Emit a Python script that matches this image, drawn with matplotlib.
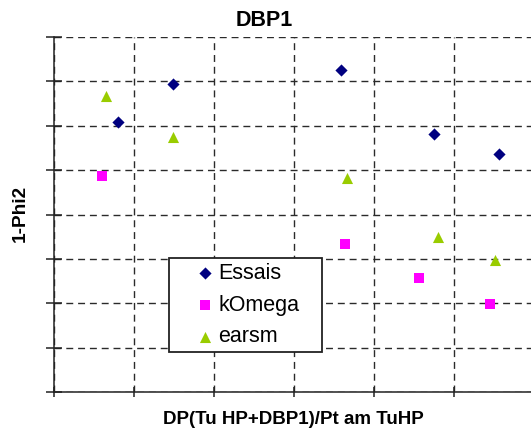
import matplotlib
matplotlib.use("Agg")
import matplotlib.pyplot as plt
from matplotlib.patches import Rectangle

plt.rcParams['font.family'] = ['Liberation Sans', 'DejaVu Sans']

# grid units on both axes (no tick labels on this chart)
essais_x = [0.79, 1.48, 3.58, 4.75, 5.56]
essais_y = [6.09, 6.93, 7.25, 5.81, 5.37]
komega_x = [0.59, 3.63, 4.56, 5.45]
komega_y = [4.87, 3.33, 2.56, 1.98]
earsm_x = [0.64, 1.48, 3.66, 4.80, 5.51]
earsm_y = [6.68, 5.74, 4.83, 3.49, 2.97]

x_ticks = [0, 1, 2, 3, 4, 5, 6]
y_ticks = [0, 1, 2, 3, 4, 5, 6, 7, 8]

fig = plt.figure(figsize=(5.31, 4.30), dpi=100)
W, H = 531.0, 430.0
ax = fig.add_axes([54.3 / W, 38 / H, 480 / W, 355 / H])

ax.set_xlim(0, 6)
ax.set_ylim(0, 8)
ax.set_xticks(x_ticks)
ax.set_yticks(y_ticks)
ax.set_xticklabels([])
ax.set_yticklabels([])
ax.grid(True, color='#2a2a2a', linestyle=(0, (5, 3.5)), linewidth=1.0, zorder=0)
ax.set_axisbelow(True)
for s in ['top', 'right']:
    ax.spines[s].set_visible(False)
for s in ['left', 'bottom']:
    ax.spines[s].set_color('#222222')
    ax.spines[s].set_linewidth(1.1)
ax.tick_params(axis='y', direction='inout', length=11, width=1.1, color='#222222')
ax.tick_params(axis='x', direction='inout', length=6.5, width=1.1, color='#222222')

ax.scatter(essais_x, essais_y, marker='D', s=6.2**2, color='#000080', label='Essais', zorder=3, linewidths=0)
ax.scatter(komega_x, komega_y, marker='s', s=7.8**2, color='#FF00FF', label='kOmega', zorder=3, linewidths=0)
ax.scatter(earsm_x, earsm_y, marker='^', s=8.0**2, color='#99CC00', label='earsm', zorder=3, linewidths=0)

# legend box
box = Rectangle((1.434, 0.90), 1.912, 2.13, facecolor='white', edgecolor='#222222',
                linewidth=1.3, zorder=4)
ax.add_patch(box)
leg = ax.legend(loc='upper left', bbox_to_anchor=(0.292, 0.364), frameon=False,
                fontsize=15.5, borderpad=0, handlelength=1.0, handletextpad=0.12,
                labelspacing=0.5, borderaxespad=0)
leg.set_zorder(5)

fig.text(264 / W, 1 - 21 / H, 'DBP1', ha='center', va='center', fontsize=15.5, fontweight='bold')
fig.text(293 / W, 1 - 419 / H, 'DP(Tu HP+DBP1)/Pt am TuHP', ha='center', va='center',
         fontsize=13.5, fontweight='bold')
fig.text(20 / W, 1 - 213 / H, '1-Phi2', ha='center', va='center', rotation=90,
         fontsize=13.7, fontweight='bold')

fig.savefig('out.png', dpi=100)
